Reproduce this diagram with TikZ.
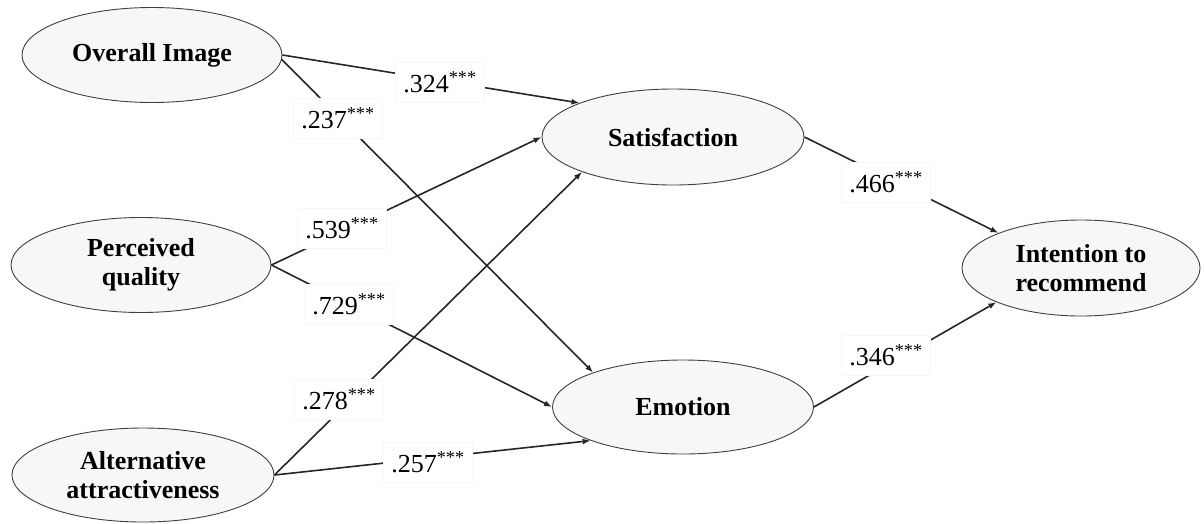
\documentclass[tikz,border=0pt]{standalone}
\usepackage{fontspec}
\setmainfont{Liberation Serif}
\usetikzlibrary{shapes.geometric,arrows.meta}
\begin{document}
\begin{tikzpicture}[x=1pt,y=-1pt,
  latent/.style={ellipse,draw=black!75,line width=0.9pt,fill=black!3,inner sep=0pt,align=center,
    font=\fontsize{26}{28.5}\selectfont\bfseries},
  pathline/.style={line width=1.6pt,draw=black!85,-{Latex[length=8pt,width=6pt]}},
  coef/.style={fill=white,draw=black!3,inner xsep=8pt,minimum height=40pt,
    font=\fontsize{26}{30}\selectfont}]
\useasboundingbox (0,0) rectangle (1204,523);
\node[latent,minimum width=260pt,minimum height=95pt] (oi) at (152,55) {Overall Image};
\node[latent,minimum width=260pt,minimum height=95pt] (pq) at (141,265) {Perceived\\quality};
\node[latent,minimum width=262pt,minimum height=94pt] (aa) at (143,475) {Alternative\\attractiveness};
\node[latent,minimum width=262pt,minimum height=96pt] (sat) at (673,137) {Satisfaction};
\node[latent,minimum width=261pt,minimum height=94pt] (emo) at (683,407) {Emotion};
\node[latent,minimum width=238pt,minimum height=96pt] (int) at (1081,268) {Intention to\\recommend};

\draw[pathline] (oi.east) -- (sat.160);
\draw[pathline] (oi.-2) -- (emo.159);
\draw[pathline] (pq.east) -- (sat.west);
\draw[pathline] (pq.east) -- (emo.west);
\draw[pathline] (aa.east) -- (sat.-159);
\draw[pathline] (aa.east) -- (emo.-160);
\draw[pathline] (sat.east) -- (int.157);
\draw[pathline] (emo.east) -- (int.-158);

\node[coef] (c324) at (440,82) {.324\textsuperscript{***}};
\node[coef] (c237) at (338,118) {.237\textsuperscript{***}};
\node[coef] (c539) at (342,228) {.539\textsuperscript{***}};
\node[coef] (c729) at (349,304) {.729\textsuperscript{***}};
\node[coef] (c278) at (339,399) {.278\textsuperscript{***}};
\node[coef] (c257) at (428,462) {.257\textsuperscript{***}};
\node[coef] (c466) at (886,182) {.466\textsuperscript{***}};
\node[coef] (c346) at (886,355) {.346\textsuperscript{***}};
\end{tikzpicture}
\end{document}
